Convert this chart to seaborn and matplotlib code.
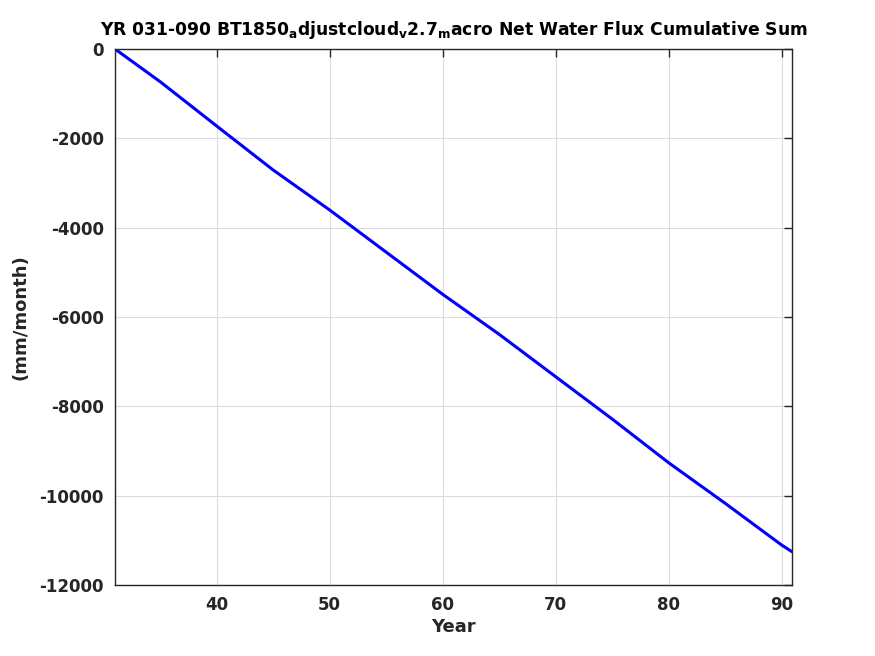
import seaborn as sns
import matplotlib.pyplot as plt
import pandas as pd

# valeurs (somme cumulée, mm/month)
years = [31, 35, 40, 45, 50, 60, 65, 70, 75, 80, 85, 90, 90.917]
cumsum = [0, -732, -1724, -2709, -3604, -5491, -6387, -7336, -8283, -9262, -10170, -11104, -11254]
yticks = [0, -2000, -4000, -6000, -8000, -10000, -12000]
xticks = [40, 50, 60, 70, 80, 90]

df = pd.DataFrame({'Year': years, 'flux': cumsum})

sns.set_style('white')
plt.rcParams['font.family'] = ['DejaVu Sans']
plt.rcParams['font.weight'] = 'bold'
plt.rcParams['mathtext.default'] = 'bf'
plt.rcParams['axes.unicode_minus'] = False

fig = plt.figure(figsize=(8.75, 6.56), dpi=100)
ax = fig.add_axes([0.1314, 0.1082, 0.7737, 0.8171])

sns.lineplot(data=df, x='Year', y='flux', ax=ax, color='#0000ff', linewidth=2.2)

ax.set_xlim(31, 90.917)
ax.set_ylim(-12000, 0)
ax.set_xticks(xticks)
ax.set_yticks(yticks)
ax.grid(True, color='#dcdcdc', linewidth=0.8)
ax.tick_params(direction='in', top=True, right=True, length=6, width=1,
               labelsize=12, colors='#262626', pad=8)
for lab in ax.get_xticklabels() + ax.get_yticklabels():
    lab.set_fontweight('bold')
for s in ax.spines.values():
    s.set_color('#262626')
    s.set_linewidth(1)

ax.set_xlabel('Year', fontsize=13, fontweight='bold', color='#262626', labelpad=3)
ax.set_ylabel('(mm/month)', fontsize=13, fontweight='bold', color='#262626', labelpad=7)
ax.set_title('YR 031-090 BT1850$_a$djustcloud$_v$2.7$_m$acro Net Water Flux Cumulative Sum',
             fontsize=12.3, fontweight='bold', color='black', pad=10)

plt.savefig('out.png')
